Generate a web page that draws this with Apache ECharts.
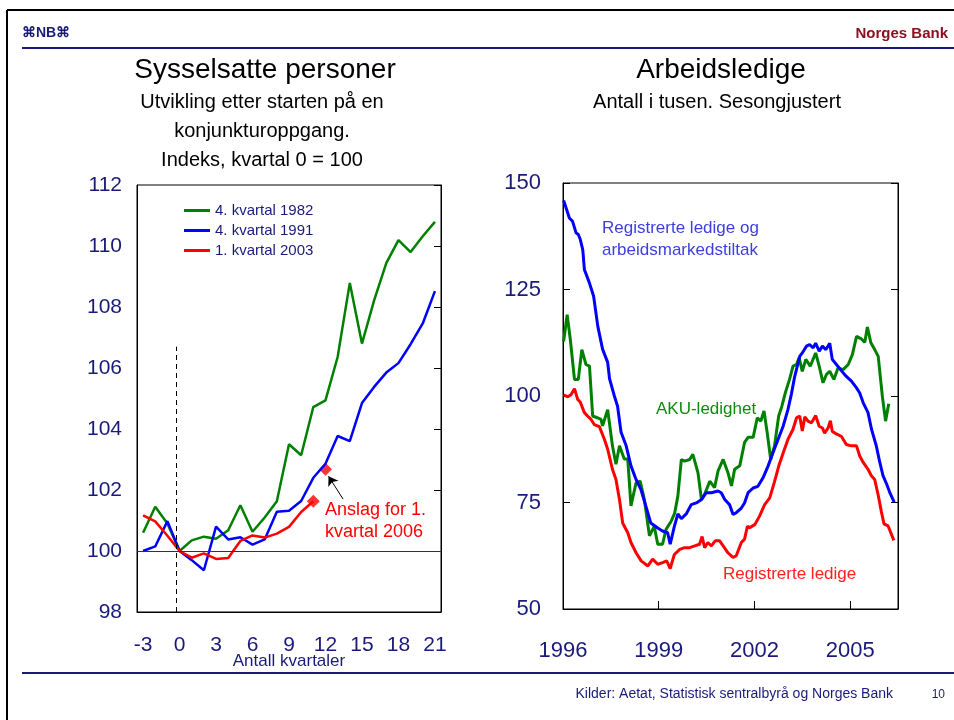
<!DOCTYPE html>
<html>
<head>
<meta charset="utf-8">
<title>Sysselsatte personer / Arbeidsledige</title>
<script src="https://cdn.jsdelivr.net/npm/echarts@6/dist/echarts.min.js"></script>
<style>
  html, body { margin: 0; padding: 0; background: #fff; }
  #chart { width: 954px; height: 720px; }
</style>
</head>
<body>
<div id="chart"></div>
<script>
// venstre figur: indeks, kvartal 0 = 100
var quarters = [-3,-2,-1,0,1,2,3,4,5,6,7,8,9,10,11,12,13,14,15,16,17,18,19,20,21];
var q1982 = [100.6,101.45,100.9,100,100.35,100.47,100.4,100.68,101.5,100.63,101.1,101.63,103.5,103.14,104.72,104.94,106.36,108.79,106.8,108.22,109.44,110.19,109.8,110.32,110.79];
var q1991 = [100.0,100.15,100.98,100,99.7,99.37,100.8,100.38,100.45,100.21,100.38,101.29,101.32,101.64,102.4,102.86,103.77,103.6,104.85,105.38,105.85,106.16,106.78,107.46,108.52];
var q2003 = [101.17,100.97,100.5,100,99.78,99.92,99.74,99.77,100.33,100.51,100.44,100.57,100.79,101.28,101.63];
var fcQuarter = [11, 12];
var fcValue = [101.63, 102.68];

// høyre figur: antall i tusen
var totYear = [1996.02,1996.2,1996.3,1996.41,1996.48,1996.54,1996.62,1996.67,1996.83,1996.96,1997.09,1997.24,1997.4,1997.46,1997.61,1997.71,1997.82,1997.98,1998.13,1998.29,1998.44,1998.6,1998.75,1998.97,1999.12,1999.28,1999.36,1999.49,1999.6,1999.71,1999.87,2000.02,2000.18,2000.34,2000.49,2000.65,2000.86,2000.96,2001.07,2001.22,2001.33,2001.43,2001.59,2001.69,2001.8,2001.96,2002.11,2002.27,2002.43,2002.58,2002.74,2002.9,2003.05,2003.16,2003.26,2003.42,2003.5,2003.63,2003.73,2003.84,2003.92,2004.03,2004.13,2004.24,2004.36,2004.44,2004.57,2004.73,2004.88,2005.04,2005.2,2005.3,2005.41,2005.56,2005.67,2005.82,2005.93,2006.03,2006.14,2006.24,2006.38];
var totVal = [145.9,141.8,141,138.3,137.9,136.8,134.3,129.7,126.5,123.4,116.4,111,107.9,104,100,97.6,91.5,88.3,83.6,80.4,78.1,74.1,70.2,69,68.3,67.9,65.2,69.4,72.3,71.2,72.4,74.5,74.9,75.7,77.3,77.3,77.7,77.3,75.7,74.5,72.2,72.6,73.7,74.9,77.3,78.4,78.8,80.8,83.6,86.7,89.8,92.9,96.8,100.5,104.5,109.3,110.1,111.7,112.1,111.3,112.4,110.5,111.7,110.9,112.4,108.6,107.4,105.9,104.6,103.5,101.9,100.7,98.4,96.1,92.2,88.3,84.4,81.3,79.4,77.4,75.1];

var akuYear = [1996.02,1996.13,1996.23,1996.36,1996.48,1996.59,1996.72,1996.83,1996.93,1997.07,1997.19,1997.24,1997.4,1997.55,1997.66,1997.77,1997.92,1998.03,1998.13,1998.29,1998.42,1998.55,1998.71,1998.86,1998.97,1999.12,1999.23,1999.39,1999.5,1999.6,1999.71,1999.81,1999.97,2000.07,2000.23,2000.34,2000.44,2000.6,2000.75,2000.86,2001.02,2001.17,2001.28,2001.38,2001.54,2001.69,2001.8,2001.96,2002.09,2002.2,2002.3,2002.4,2002.51,2002.63,2002.76,2002.86,2002.97,2003.1,2003.21,2003.32,2003.4,2003.5,2003.61,2003.75,2003.92,2004.03,2004.15,2004.26,2004.36,2004.49,2004.62,2004.78,2004.94,2005.07,2005.2,2005.35,2005.46,2005.54,2005.65,2005.77,2005.88,2006.01,2006.11,2006.21];
var akuVal = [112.8,119.1,113.2,103.9,103.9,110.9,107.4,107,95.3,94.9,94.5,93,96.8,88.3,84,88.3,85.2,85.2,74.2,79.6,80,75.7,67.2,69.4,65.2,65.2,68.7,70.6,72.5,76.5,85.1,84.7,85.1,86.3,82,75.7,76.9,80,78.5,82.4,85.1,82,78.9,82.8,83.6,89.1,90.3,90.3,94.9,94.1,96.5,91.4,85.1,88.3,95.3,97.6,100.8,103.9,107,107.4,109,105.8,108.6,107,110.1,107,103.1,105.1,105.8,103.9,106.6,106.2,107.4,109.7,114,113.4,112.6,116.2,112.5,110.9,109.3,99.9,94.1,98.2];

var regYear = [1996.02,1996.15,1996.25,1996.36,1996.46,1996.54,1996.67,1996.77,1996.88,1996.98,1997.14,1997.3,1997.4,1997.55,1997.66,1997.77,1997.87,1998.03,1998.13,1998.29,1998.45,1998.66,1998.81,1998.97,1999.12,1999.25,1999.36,1999.49,1999.66,1999.81,1999.97,2000.13,2000.28,2000.36,2000.44,2000.54,2000.65,2000.77,2000.91,2001.02,2001.17,2001.33,2001.43,2001.59,2001.69,2001.78,2001.85,2002.01,2002.16,2002.32,2002.48,2002.63,2002.76,2002.9,2003.05,2003.21,2003.32,2003.42,2003.5,2003.58,2003.68,2003.79,2003.92,2004.03,2004.13,2004.2,2004.31,2004.38,2004.44,2004.57,2004.73,2004.88,2005.04,2005.2,2005.3,2005.41,2005.56,2005.67,2005.77,2005.88,2005.98,2006.06,2006.19,2006.37];
var regVal = [100.3,99.8,100.3,101.7,99.2,98.6,96.1,95.3,94.5,93.3,92.8,89.8,87.5,82.8,80.4,75.7,70.2,67.9,65.6,63.2,61.3,60.1,61.7,60.5,60.9,61.3,59.5,62.8,64,64.4,64.4,64.8,65.2,67,64.4,65.6,64.8,66,66,64.8,63.2,62.1,62.5,65.6,66.4,69.4,69.1,69.8,71.8,74.5,76.1,79.9,83.5,86.6,89.8,92.2,94.9,95.3,91.8,95.1,94.1,93.7,95.4,92.9,92.5,91.3,92.5,94.2,91.7,91.1,90.5,88.6,88.3,88.3,85.9,84.4,82.8,81.2,80.4,76.7,72.8,70,69.5,66.1];

var NAVY = '#1a1a7a';
var FONT = '"Liberation Sans", Arial, sans-serif';
var GREEN = '#008000', BLUE = '#0000ff', RED = '#ff0000';
var LINE_ICON = 'path://M0,0 L26,0 L26,3 L0,3 Z';

function pairs(xs, ys) {
	return xs.map(function (x, i) { return [x, ys[i]]; });
}

function txt(x, y, s, size, color, align, weight) {
	return {
		type: 'text', x: x, y: y, silent: true,
		style: {
			text: s, fill: color,
			font: (weight || 'normal') + ' ' + size + 'px ' + FONT,
			textAlign: align || 'center', textVerticalAlign: 'middle'
		}
	};
}

function hline(x1, y1, x2, y2, color, w) {
	return {
		type: 'line', silent: true,
		shape: {x1: x1, y1: y1, x2: x2, y2: y2},
		style: {stroke: color, lineWidth: w}
	};
}

var chart = echarts.init(document.getElementById('chart'), null, {renderer: 'canvas'});

var option = {
	animation: false,
	backgroundColor: '#fff',
	textStyle: {fontFamily: FONT},
	grid: [
		{left: 137, top: 185, width: 304, height: 427, show: true, borderColor: '#000', borderWidth: 1},
		{left: 563, top: 183, width: 335, height: 426, show: true, borderColor: '#000', borderWidth: 1}
	],
	legend: {
		left: 179, top: 198, orient: 'vertical',
		itemWidth: 26, itemHeight: 14, itemGap: 5, symbolKeepAspect: true,
		textStyle: {fontSize: 15, color: NAVY, fontFamily: FONT},
		data: [
			{name: '4. kvartal 1982', icon: LINE_ICON},
			{name: '4. kvartal 1991', icon: LINE_ICON},
			{name: '1. kvartal 2003', icon: LINE_ICON}
		]
	},
	xAxis: [
		{
			gridIndex: 0, type: 'category', data: quarters.map(String),
			axisLine: {onZero: false, lineStyle: {color: '#000', width: 1}},
			axisTick: {inside: true, length: 7, interval: 2, lineStyle: {color: '#000'}},
			axisLabel: {interval: 2, fontSize: 21, color: NAVY, margin: 23, fontFamily: FONT},
			name: 'Antall kvartaler', nameLocation: 'middle', nameGap: 41, nameMoveOverlap: false,
			nameTextStyle: {fontSize: 17, color: NAVY, fontFamily: FONT},
			splitLine: {show: false}
		},
		{
			gridIndex: 0, type: 'value', min: -3.5, max: 21.5, show: false
		},
		{
			gridIndex: 1, type: 'value', min: 1996, max: 2006.5, interval: 3,
			axisLine: {onZero: false, lineStyle: {color: '#000', width: 1}},
			axisTick: {inside: true, length: 8, lineStyle: {color: '#000'}},
			axisLabel: {fontSize: 22, color: NAVY, margin: 31, showMaxLabel: false, fontFamily: FONT,
				formatter: function (v) { return String(Math.round(v)); }},
			splitLine: {show: false}
		}
	],
	yAxis: [
		{
			gridIndex: 0, type: 'value', min: 98, max: 112, interval: 2,
			axisLine: {show: true, onZero: false, lineStyle: {color: '#000', width: 1}},
			axisTick: {show: false},
			axisLabel: {fontSize: 21, color: NAVY, margin: 15, fontFamily: FONT},
			splitLine: {show: false}
		},
		{
			gridIndex: 0, type: 'value', position: 'right', min: 98, max: 112, interval: 2,
			axisLine: {show: true, onZero: false, lineStyle: {color: '#000', width: 1}},
			axisTick: {show: true, inside: true, length: 7, lineStyle: {color: '#000'}},
			axisLabel: {show: false},
			splitLine: {show: false}
		},
		{
			gridIndex: 1, type: 'value', min: 50, max: 150, interval: 25,
			axisLine: {show: true, onZero: false, lineStyle: {color: '#000', width: 1}},
			axisTick: {show: true, inside: true, length: 7, lineStyle: {color: '#000'}},
			axisLabel: {fontSize: 22, color: NAVY, margin: 22, fontFamily: FONT},
			splitLine: {show: false}
		},
		{
			gridIndex: 1, type: 'value', position: 'right', min: 50, max: 150, interval: 25,
			axisLine: {show: true, onZero: false, lineStyle: {color: '#000', width: 1}},
			axisTick: {show: true, inside: true, length: 7, lineStyle: {color: '#000'}},
			axisLabel: {show: false},
			splitLine: {show: false}
		}
	],
	series: [
		// hjelpelinjer i venstre figur
		{
			name: 'ref', type: 'line', xAxisIndex: 1, yAxisIndex: 0, data: [], silent: true,
			markLine: {
				silent: true, symbol: 'none', label: {show: false},
				data: [
					[{coord: [-3.5, 100], lineStyle: {color: '#333', width: 1, type: 'solid'}}, {coord: [21.5, 100]}],
					[{coord: [-0.3, 98], lineStyle: {color: '#000', width: 1, type: [5, 4]}}, {coord: [-0.3, 106.7]}],
					[{coord: [13.45, 101.7], symbol: 'none', lineStyle: {color: '#000', width: 1, type: 'solid'}},
					 {coord: [12.25, 102.45], symbol: 'arrow', symbolSize: 9}]
				]
			}
		},
		{
			name: '4. kvartal 1982', type: 'line', xAxisIndex: 0, yAxisIndex: 0,
			data: q1982, symbol: 'none', color: GREEN,
			lineStyle: {width: 2.5, color: GREEN}
		},
		{
			name: '4. kvartal 1991', type: 'line', xAxisIndex: 0, yAxisIndex: 0,
			data: q1991, symbol: 'none', color: BLUE,
			lineStyle: {width: 2.5, color: BLUE}
		},
		{
			name: '1. kvartal 2003', type: 'line', xAxisIndex: 0, yAxisIndex: 0,
			data: q2003, symbol: 'none', color: RED,
			lineStyle: {width: 2.5, color: RED}
		},
		{
			name: 'Anslag', type: 'scatter', xAxisIndex: 0, yAxisIndex: 0,
			data: fcQuarter.map(function (q, i) { return [String(q), fcValue[i]]; }),
			symbol: 'diamond', symbolSize: 13, itemStyle: {color: RED}
		},
		// høyre figur
		{
			name: 'AKU-ledighet', type: 'line', xAxisIndex: 2, yAxisIndex: 2,
			data: pairs(akuYear, akuVal), symbol: 'none',
			lineStyle: {width: 3, color: GREEN}
		},
		{
			name: 'Registrerte ledige og arbeidsmarkedstiltak', type: 'line', xAxisIndex: 2, yAxisIndex: 2,
			data: pairs(totYear, totVal), symbol: 'none',
			lineStyle: {width: 3, color: BLUE}
		},
		{
			name: 'Registrerte ledige', type: 'line', xAxisIndex: 2, yAxisIndex: 2,
			data: pairs(regYear, regVal), symbol: 'none',
			lineStyle: {width: 3, color: RED}
		}
	],
	graphic: [
		hline(7, 10, 954, 10, '#000', 2),
		hline(7, 10, 7, 720, '#000', 2),
		hline(22, 48, 954, 48, NAVY, 2),
		hline(22, 673, 954, 673, NAVY, 2),
		txt(22, 33, '\u2318NB\u2318', 14, NAVY, 'left', 'bold'),
		txt(948, 34, 'Norges Bank', 15, '#8b1020', 'right', 'bold'),
		txt(265, 70, 'Sysselsatte personer', 28, '#000'),
		txt(262, 102, 'Utvikling etter starten på en', 20, '#000'),
		txt(262, 131, 'konjunkturoppgang.', 20, '#000'),
		txt(262, 160, 'Indeks, kvartal 0 = 100', 20, '#000'),
		txt(721, 70, 'Arbeidsledige', 28, '#000'),
		txt(717, 102, 'Antall i tusen. Sesongjustert', 20, '#000'),
		txt(325, 510, 'Anslag for 1.', 18, RED, 'left'),
		txt(325, 532, 'kvartal 2006', 18, RED, 'left'),
		txt(602, 228, 'Registrerte ledige og', 17, '#3d3de0', 'left'),
		txt(602, 250, 'arbeidsmarkedstiltak', 17, '#3d3de0', 'left'),
		txt(656, 409, 'AKU-ledighet', 17, '#118811', 'left'),
		txt(723, 574, 'Registrerte ledige', 17, '#ff2020', 'left'),
		txt(893, 694, 'Kilder: Aetat, Statistisk sentralbyrå og Norges Bank', 14, NAVY, 'right'),
		txt(945, 695, '10', 12, NAVY, 'right')
	]
};

chart.setOption(option);
</script>
</body>
</html>
